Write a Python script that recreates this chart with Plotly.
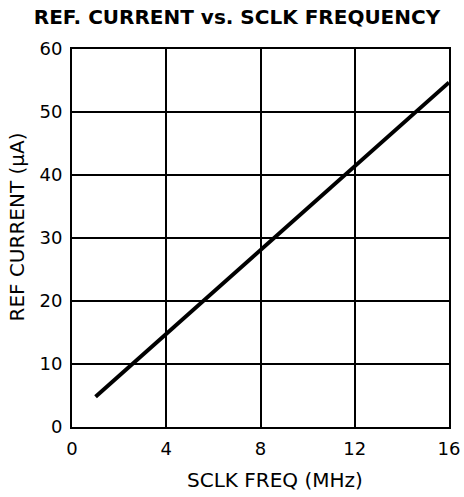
import plotly.graph_objects as go

freq_mhz = [1, 16]
ref_current_ua = [4.8, 54.7]
x_ticks = [0, 4, 8, 12, 16]
y_ticks = [0, 10, 20, 30, 40, 50, 60]

fig = go.Figure()
fig.add_trace(go.Scatter(x=freq_mhz, y=ref_current_ua, mode="lines",
                         line=dict(color="black", width=4), showlegend=False,
                         hoverinfo="skip"))

font = "DejaVu Sans, sans-serif"
W, H = 464, 497
fig.update_layout(
    width=W, height=H,
    margin=dict(l=72, r=15, t=49, b=70, autoexpand=False),
    paper_bgcolor="white", plot_bgcolor="white",
    hovermode=False,
    title=dict(text="<b>REF. CURRENT vs. SCLK FREQUENCY</b>", x=237 / W, xref="container",
               xanchor="center", y=1 - 17 / H, yref="container", yanchor="middle",
               font=dict(family=font, size=20, color="black")),
    font=dict(family=font, size=18, color="black"),
    annotations=[
        dict(text="SCLK FREQ (MHz)", xref="paper", yref="paper", x=0.5, y=0,
             xanchor="center", yanchor="middle", xshift=14, yshift=-53,
             showarrow=False, font=dict(family=font, size=20, color="black")),
        dict(text="REF CURRENT (µA)", xref="paper", yref="paper", x=0, y=0.5,
             xanchor="center", yanchor="middle", xshift=-55.5, yshift=11, textangle=-90,
             showarrow=False, font=dict(family=font, size=20, color="black")),
    ],
)
fig.update_xaxes(range=[0, 16], tickvals=x_ticks, showgrid=True, gridcolor="black", gridwidth=1.5,
                 showline=True, linecolor="black", linewidth=2, mirror=True, zeroline=False,
                 ticks="", automargin=False, ticklabelstandoff=4, ticklabeloverflow="allow",
                 tickfont=dict(size=18))
fig.update_yaxes(range=[0, 60], tickvals=y_ticks, showgrid=True, gridcolor="black", gridwidth=1.5,
                 showline=True, linecolor="black", linewidth=2, mirror=True, zeroline=False,
                 ticks="", automargin=False, ticklabelstandoff=4, tickfont=dict(size=18))
fig.write_html("out.html", config={"displayModeBar": False},
               post_script="document.body.style.margin='0';")
